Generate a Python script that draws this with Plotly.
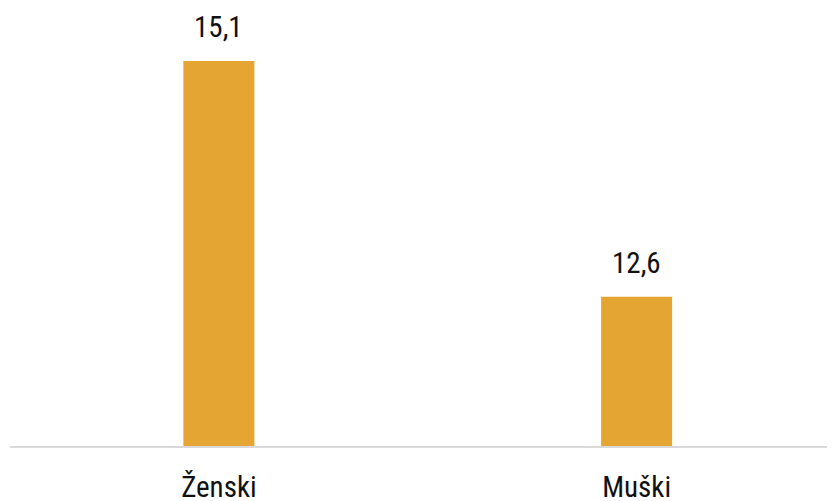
import plotly.graph_objects as go

categories = ["Ženski", "Muški"]
values = [15.1, 12.6]
value_labels = ["15,1", "12,6"]

bar_color = "#E5A532"
font_family = "Roboto Condensed, Liberation Sans Narrow, sans-serif"

fig = go.Figure()
fig.add_trace(go.Bar(
    x=categories,
    y=values,
    width=0.17,
    marker=dict(color=bar_color, line=dict(width=0)),
    hoverinfo="x+y",
))

# value labels above bars
for cat, val, lab in zip(categories, values, value_labels):
    fig.add_annotation(
        x=cat, y=val, text=lab, showarrow=False,
        yanchor="bottom", yshift=15,
        font=dict(family=font_family, size=29, color="#111111"),
    )

fig.update_layout(
    width=835,
    height=501,
    margin=dict(l=2, r=0, t=0, b=63),
    paper_bgcolor="white",
    plot_bgcolor="white",
    showlegend=False,
    font=dict(family=font_family, size=29, color="#111111"),
)
fig.update_xaxes(
    range=[-0.5, 1.494],
    automargin=False,
    showline=True, linecolor="#D9D9D9", linewidth=2,
    ticks="", showgrid=False,
    tickfont=dict(family=font_family, size=29, color="#111111"),
    ticklabelstandoff=14,
)
fig.update_yaxes(
    range=[11.016, 15.662],
    automargin=False,
    showgrid=False, showticklabels=False, zeroline=False, ticks="",
)

fig.write_html("out.html")
